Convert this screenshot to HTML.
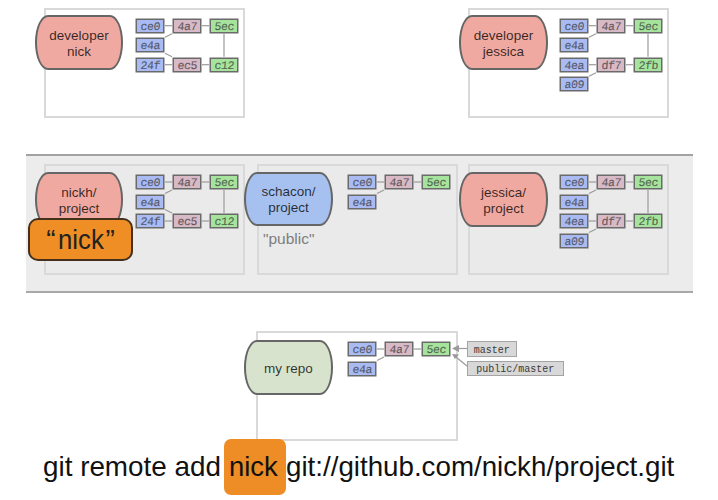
<!DOCTYPE html>
<html><head><meta charset="utf-8"><style>
html,body{margin:0;padding:0;background:#fff;width:718px;height:500px;overflow:hidden;position:relative}
body{font-family:"Liberation Sans",sans-serif}
.r{position:absolute;box-sizing:border-box}
.pill{position:absolute;box-sizing:border-box;border:2px solid #666;border-radius:13px/27px;display:flex;align-items:center;justify-content:center;text-align:center;color:rgba(0,0,0,0.78);line-height:1.15;padding-top:2px}
.c{position:absolute;box-sizing:border-box;width:28px;height:14px;border:1px solid #6a6a6a;box-shadow:0 0 0 0.5px #6a6a6a;font-family:"Liberation Mono",monospace;font-size:11.5px;line-height:14.5px;-webkit-text-stroke:0.2px rgba(40,40,40,0.5);letter-spacing:-0.4px;text-indent:0.4px;text-align:center;color:rgba(40,40,40,0.65)}
.t{position:absolute;white-space:nowrap}
.lab{position:absolute;box-sizing:border-box;height:15.5px;background:#d8d8d8;border:1px solid #a4a4a4;font-family:"Liberation Mono",monospace;font-size:10px;line-height:13px;padding-top:1.5px;text-align:center;color:#3a3a3a}
.nk{position:absolute;left:28px;top:218px;width:105px;height:43px;box-sizing:border-box;background:#ef8e24;border:2px solid #45301c;border-radius:10px;font-size:28px;line-height:40px;text-align:center;color:#222}
.hl{position:absolute;left:224px;top:439px;width:62px;height:56px;background:#ee8c25;border-radius:7px}
.cmd{position:absolute;top:451px;font-size:28px;color:#111;white-space:nowrap;transform-origin:0 0}
svg{position:absolute;left:0;top:0}
.c i{font-style:normal;display:inline-block;transform:skewX(-5deg)}
</style></head><body>
<div class="r" style="left:26px;top:154px;width:667px;height:139px;background:#ececec;border-top:2px solid #a2a2a2;border-bottom:2px solid #a8a8a8"></div>
<div class="r" style="left:44px;top:8px;width:201px;height:110px;border:2px solid #d9d9d9;background:#fff;"></div>
<div class="r" style="left:468px;top:8px;width:201px;height:110px;border:2px solid #d9d9d9;background:#fff;"></div>
<div class="r" style="left:44px;top:164px;width:201px;height:111px;border:2px solid #d9d9d9;background:#eaeaea;"></div>
<div class="r" style="left:257px;top:164px;width:201px;height:111px;border:2px solid #d9d9d9;background:#eaeaea;"></div>
<div class="r" style="left:468px;top:164px;width:201px;height:111px;border:2px solid #d9d9d9;background:#eaeaea;"></div>
<div class="r" style="left:256px;top:330.5px;width:202px;height:110px;border:2px solid #d9d9d9;background:#fff;"></div>
<div class="pill" style="left:35px;top:15px;width:88px;height:55px;background:#f0a9a0;font-size:13.5px;"><span>developer<br>nick</span></div>
<div class="pill" style="left:459px;top:15px;width:89px;height:55px;background:#f0a9a0;font-size:13.5px;"><span>developer<br>jessica</span></div>
<div class="pill" style="left:35px;top:172px;width:88px;height:55px;background:#f0a9a0;font-size:13.5px;"><span>nickh/<br>project</span></div>
<div class="pill" style="left:244px;top:172px;width:89px;height:54px;background:#a6c0ef;font-size:13.5px;"><span>schacon/<br>project</span></div>
<div class="pill" style="left:459px;top:172px;width:89px;height:55px;background:#f0a9a0;font-size:13.5px;"><span>jessica/<br>project</span></div>
<div class="pill" style="left:244px;top:340px;width:89px;height:55px;background:#d8e3cd;font-size:13.5px;"><span>my repo</span></div>
<svg width="718" height="500"><line x1="165" y1="25.7" x2="172" y2="25.7" stroke="#9a9a9a" stroke-width="1.2"/><line x1="202" y1="25.7" x2="209" y2="25.7" stroke="#9a9a9a" stroke-width="1.2"/><line x1="165" y1="37.2" x2="172" y2="33.7" stroke="#9a9a9a" stroke-width="1.2"/><line x1="165" y1="53.2" x2="172" y2="56.7" stroke="#9a9a9a" stroke-width="1.2"/><line x1="165" y1="64.7" x2="172" y2="64.7" stroke="#9a9a9a" stroke-width="1.2"/><line x1="202" y1="64.7" x2="209" y2="64.7" stroke="#9a9a9a" stroke-width="1.2"/><line x1="224.0" y1="33.7" x2="224.0" y2="56.7" stroke="#9a9a9a" stroke-width="1.2"/><line x1="589" y1="25.7" x2="596" y2="25.7" stroke="#9a9a9a" stroke-width="1.2"/><line x1="626" y1="25.7" x2="633" y2="25.7" stroke="#9a9a9a" stroke-width="1.2"/><line x1="589" y1="37.2" x2="596" y2="33.7" stroke="#9a9a9a" stroke-width="1.2"/><line x1="589" y1="64.7" x2="596" y2="64.7" stroke="#9a9a9a" stroke-width="1.2"/><line x1="626" y1="64.7" x2="633" y2="64.7" stroke="#9a9a9a" stroke-width="1.2"/><line x1="589" y1="76.2" x2="596" y2="72.7" stroke="#9a9a9a" stroke-width="1.2"/><line x1="648.0" y1="33.7" x2="648.0" y2="56.7" stroke="#9a9a9a" stroke-width="1.2"/><line x1="165" y1="182.0" x2="172" y2="182.0" stroke="#9a9a9a" stroke-width="1.2"/><line x1="202" y1="182.0" x2="209" y2="182.0" stroke="#9a9a9a" stroke-width="1.2"/><line x1="165" y1="193.5" x2="172" y2="190" stroke="#9a9a9a" stroke-width="1.2"/><line x1="165" y1="209.5" x2="172" y2="213.0" stroke="#9a9a9a" stroke-width="1.2"/><line x1="165" y1="221.0" x2="172" y2="221.0" stroke="#9a9a9a" stroke-width="1.2"/><line x1="202" y1="221.0" x2="209" y2="221.0" stroke="#9a9a9a" stroke-width="1.2"/><line x1="224.0" y1="190" x2="224.0" y2="213.0" stroke="#9a9a9a" stroke-width="1.2"/><line x1="377" y1="182.0" x2="384" y2="182.0" stroke="#9a9a9a" stroke-width="1.2"/><line x1="414" y1="182.0" x2="421" y2="182.0" stroke="#9a9a9a" stroke-width="1.2"/><line x1="377" y1="193.5" x2="384" y2="190" stroke="#9a9a9a" stroke-width="1.2"/><line x1="589" y1="182.0" x2="596" y2="182.0" stroke="#9a9a9a" stroke-width="1.2"/><line x1="626" y1="182.0" x2="633" y2="182.0" stroke="#9a9a9a" stroke-width="1.2"/><line x1="589" y1="193.5" x2="596" y2="190" stroke="#9a9a9a" stroke-width="1.2"/><line x1="589" y1="221.0" x2="596" y2="221.0" stroke="#9a9a9a" stroke-width="1.2"/><line x1="626" y1="221.0" x2="633" y2="221.0" stroke="#9a9a9a" stroke-width="1.2"/><line x1="589" y1="232.5" x2="596" y2="229.0" stroke="#9a9a9a" stroke-width="1.2"/><line x1="648.0" y1="190" x2="648.0" y2="213.0" stroke="#9a9a9a" stroke-width="1.2"/><line x1="377" y1="349.0" x2="384" y2="349.0" stroke="#9a9a9a" stroke-width="1.2"/><line x1="414" y1="349.0" x2="421" y2="349.0" stroke="#9a9a9a" stroke-width="1.2"/><line x1="377" y1="360.5" x2="384" y2="357" stroke="#9a9a9a" stroke-width="1.2"/><line x1="467" y1="348.5" x2="456" y2="348.5" stroke="#9a9a9a" stroke-width="1.2"/><polygon points="452,348.5 459,345 459,352" fill="#9a9a9a"/><line x1="467" y1="366" x2="456" y2="357" stroke="#9a9a9a" stroke-width="1.2"/><polygon points="452,354 459,354.5 455,359" fill="#9a9a9a"/></svg>
<div class="c" style="left:136px;top:18.7px;background:#a9bbf2;"><i>ce0</i></div>
<div class="c" style="left:173px;top:18.7px;background:#d8b9c6;"><i>4a7</i></div>
<div class="c" style="left:210px;top:18.7px;background:#a6e49e;"><i>5ec</i></div>
<div class="c" style="left:136px;top:38.2px;background:#a9bbf2;"><i>e4a</i></div>
<div class="c" style="left:136px;top:57.7px;background:#a9bbf2;"><i>24f</i></div>
<div class="c" style="left:173px;top:57.7px;background:#d8b9c6;"><i>ec5</i></div>
<div class="c" style="left:210px;top:57.7px;background:#a6e49e;"><i>c12</i></div>
<div class="c" style="left:560px;top:18.7px;background:#a9bbf2;"><i>ce0</i></div>
<div class="c" style="left:597px;top:18.7px;background:#d8b9c6;"><i>4a7</i></div>
<div class="c" style="left:634px;top:18.7px;background:#a6e49e;"><i>5ec</i></div>
<div class="c" style="left:560px;top:38.2px;background:#a9bbf2;"><i>e4a</i></div>
<div class="c" style="left:560px;top:57.7px;background:#a9bbf2;"><i>4ea</i></div>
<div class="c" style="left:597px;top:57.7px;background:#d8b9c6;"><i>df7</i></div>
<div class="c" style="left:634px;top:57.7px;background:#a6e49e;"><i>2fb</i></div>
<div class="c" style="left:560px;top:77.2px;background:#a9bbf2;"><i>a09</i></div>
<div class="c" style="left:136px;top:175px;background:#a9bbf2;"><i>ce0</i></div>
<div class="c" style="left:173px;top:175px;background:#d8b9c6;"><i>4a7</i></div>
<div class="c" style="left:210px;top:175px;background:#a6e49e;"><i>5ec</i></div>
<div class="c" style="left:136px;top:194.5px;background:#a9bbf2;"><i>e4a</i></div>
<div class="c" style="left:136px;top:214.0px;background:#a9bbf2;"><i>24f</i></div>
<div class="c" style="left:173px;top:214.0px;background:#d8b9c6;"><i>ec5</i></div>
<div class="c" style="left:210px;top:214.0px;background:#a6e49e;"><i>c12</i></div>
<div class="c" style="left:348px;top:175px;background:#a9bbf2;"><i>ce0</i></div>
<div class="c" style="left:385px;top:175px;background:#d8b9c6;"><i>4a7</i></div>
<div class="c" style="left:422px;top:175px;background:#a6e49e;"><i>5ec</i></div>
<div class="c" style="left:348px;top:194.5px;background:#a9bbf2;"><i>e4a</i></div>
<div class="c" style="left:560px;top:175px;background:#a9bbf2;"><i>ce0</i></div>
<div class="c" style="left:597px;top:175px;background:#d8b9c6;"><i>4a7</i></div>
<div class="c" style="left:634px;top:175px;background:#a6e49e;"><i>5ec</i></div>
<div class="c" style="left:560px;top:194.5px;background:#a9bbf2;"><i>e4a</i></div>
<div class="c" style="left:560px;top:214.0px;background:#a9bbf2;"><i>4ea</i></div>
<div class="c" style="left:597px;top:214.0px;background:#d8b9c6;"><i>df7</i></div>
<div class="c" style="left:634px;top:214.0px;background:#a6e49e;"><i>2fb</i></div>
<div class="c" style="left:560px;top:233.5px;background:#a9bbf2;"><i>a09</i></div>
<div class="c" style="left:348px;top:342px;background:#a9bbf2;"><i>ce0</i></div>
<div class="c" style="left:385px;top:342px;background:#d8b9c6;"><i>4a7</i></div>
<div class="c" style="left:422px;top:342px;background:#a6e49e;"><i>5ec</i></div>
<div class="c" style="left:348px;top:361.5px;background:#a9bbf2;"><i>e4a</i></div>
<div class="t" style="left:263px;top:229.5px;font-size:15.5px;color:#7e7e7e">"public"</div>
<div class="nk">&ldquo;<span style="display:inline-block;transform:scaleX(0.92)">nick</span>&rdquo;</div>
<div class="lab" style="left:466.5px;top:341px;width:50.5px">master</div>
<div class="lab" style="left:466.5px;top:360.5px;width:97.5px">public/master</div>
<div class="hl"></div>
<div class="cmd" id="s1" style="left:43px;transform:scaleX(0.994)">git remote add</div>
<div class="cmd" id="s2" style="left:229px;transform:scaleX(0.98)">nick</div>
<div class="cmd" id="s3" style="left:285.5px;transform:scaleX(0.99)">git://github.com/nickh/project.git</div>
</body></html>
